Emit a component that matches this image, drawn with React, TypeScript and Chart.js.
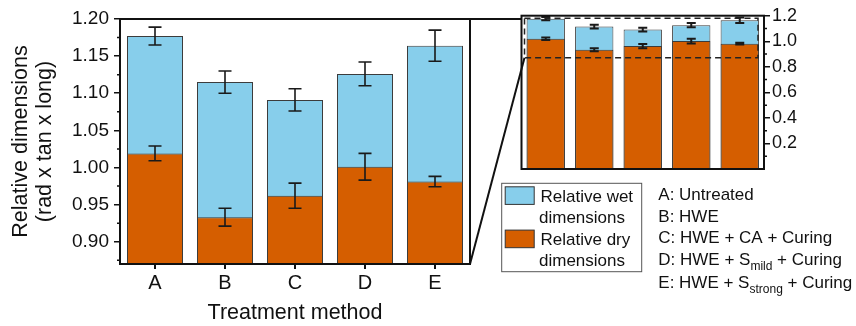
import React, { useEffect, useRef } from 'react';
import { Chart, registerables } from 'chart.js';

Chart.register(...registerables);

// ---------------- data ----------------
const categories = ['A', 'B', 'C', 'D', 'E'];
const wetValues = [1.177, 1.115, 1.091, 1.126, 1.164];
const wetErrors = [0.012, 0.015, 0.015, 0.016, 0.021];
const dryValues = [1.019, 0.933, 0.962, 1.001, 0.981];
const dryErrors = [0.010, 0.012, 0.017, 0.018, 0.007];

const mainYTicks = [0.9, 0.95, 1.0, 1.05, 1.1, 1.15, 1.2];
const mainYMinorTicks = [0.875, 0.925, 0.975, 1.025, 1.075, 1.125, 1.175];
const mainYRange = [0.87, 1.2];

const insetYTicks = [0.2, 0.4, 0.6, 0.8, 1.0, 1.2];
const insetYMinorTicks = [0.1, 0.3, 0.5, 0.7, 0.9, 1.1];
const insetYRange = [0, 1.2];
const zoomWindow = [0.87, 1.18];

const legendEntries = [
  { lines: ['Relative wet', 'dimensions'], series: 'wet' },
  { lines: ['Relative dry', 'dimensions'], series: 'dry' },
];

type Seg = { t: string; sub?: boolean };
const treatmentNotes: Seg[][] = [
  [{ t: 'A: Untreated' }],
  [{ t: 'B: HWE' }],
  [{ t: 'C: HWE + CA + Curing' }],
  [{ t: 'D: HWE + S' }, { t: 'mild', sub: true }, { t: ' + Curing' }],
  [{ t: 'E: HWE + S' }, { t: 'strong', sub: true }, { t: ' + Curing' }],
];

// ---------------- style / layout ----------------
const W = 856;
const H = 326;
const MAIN_AREA = { left: 120, top: 19, right: 470, bottom: 264 };
const INSET_AREA = { left: 521.5, top: 15.7, right: 764, bottom: 169 };
const INSET_AXIS_W = 40;
const FONT = '"Liberation Sans", Arial, Helvetica, sans-serif';
const WET = '#87CEEB';
const DRY = '#D55E00';
const EDGE = '#3c3c3c';
const INK = '#111111';

const errorBarPlugin = {
  id: 'errorBars',
  afterDatasetsDraw(chart: any, _args: any, opts: any) {
    const { ctx } = chart;
    ctx.save();
    ctx.strokeStyle = opts.color || INK;
    ctx.lineWidth = opts.lineWidth || 1.5;
    const cap = opts.capWidth || 12;
    chart.data.datasets.forEach((ds: any, di: number) => {
      const errs = ds.errors;
      if (!errs) return;
      const meta = chart.getDatasetMeta(di);
      const yScale = chart.scales[meta.yAxisID];
      meta.data.forEach((bar: any, i: number) => {
        const v = ds.data[i];
        const e = errs[i];
        const x = bar.x;
        const yT = yScale.getPixelForValue(v + e);
        const yB = yScale.getPixelForValue(v - e);
        ctx.beginPath();
        ctx.moveTo(x, yT);
        ctx.lineTo(x, yB);
        ctx.moveTo(x - cap / 2, yT);
        ctx.lineTo(x + cap / 2, yT);
        ctx.moveTo(x - cap / 2, yB);
        ctx.lineTo(x + cap / 2, yB);
        ctx.stroke();
      });
    });
    ctx.restore();
  },
};

function makeDatasets(barPct: number) {
  return [
    {
      label: 'Relative dry dimensions',
      data: dryValues,
      errors: dryErrors,
      backgroundColor: DRY,
      borderColor: EDGE,
      borderWidth: 1,
      order: 0,
      grouped: false,
      barPercentage: barPct,
      categoryPercentage: 1,
    },
    {
      label: 'Relative wet dimensions',
      data: wetValues,
      errors: wetErrors,
      backgroundColor: WET,
      borderColor: EDGE,
      borderWidth: 1,
      order: 1,
      grouped: false,
      barPercentage: barPct,
      categoryPercentage: 1,
    },
  ];
}

const mainDecor = {
  id: 'mainDecor',
  afterDraw(chart: any) {
    const { ctx, chartArea: a } = chart;
    const y = chart.scales.y;
    ctx.save();
    ctx.strokeStyle = INK;
    ctx.lineWidth = 2;
    ctx.beginPath();
    ctx.moveTo(a.left, a.bottom);
    ctx.lineTo(a.left, a.top);
    ctx.lineTo(INSET_AREA.left, a.top);
    ctx.moveTo(a.right, a.top);
    ctx.lineTo(a.right, a.bottom);
    ctx.lineTo(a.left - 1, a.bottom);
    ctx.stroke();
    // minor ticks
    ctx.lineWidth = 1.5;
    ctx.beginPath();
    mainYMinorTicks.forEach((v) => {
      const py = y.getPixelForValue(v);
      ctx.moveTo(a.left, py);
      ctx.lineTo(a.left - 3, py);
    });
    ctx.stroke();
    ctx.restore();
  },
};

function drawSegs(ctx: any, segs: Seg[], x: number, y: number) {
  let cx = x;
  segs.forEach((s) => {
    if (s.sub) {
      ctx.font = `12px ${FONT}`;
      ctx.fillText(s.t, cx, y + 4.5);
    } else {
      ctx.font = `17px ${FONT}`;
      ctx.fillText(s.t, cx, y);
    }
    cx += ctx.measureText(s.t).width;
  });
}

const insetDecor = {
  id: 'insetDecor',
  afterDraw(chart: any) {
    const { ctx, chartArea: a } = chart;
    const y = chart.scales.y;
    ctx.save();
    // frame
    ctx.strokeStyle = INK;
    ctx.lineWidth = 2;
    ctx.strokeRect(a.left, a.top, a.right - a.left, a.bottom - a.top);
    // minor ticks
    ctx.lineWidth = 1.5;
    ctx.beginPath();
    insetYMinorTicks.forEach((v) => {
      const py = y.getPixelForValue(v);
      ctx.moveTo(a.right, py);
      ctx.lineTo(a.right + 3, py);
    });
    ctx.stroke();
    // dashed zoom window
    const zl = a.left + 3;
    const zr = a.right - 6;
    const zt = y.getPixelForValue(zoomWindow[1]);
    const zb = y.getPixelForValue(zoomWindow[0]);
    ctx.setLineDash([6, 4]);
    ctx.lineWidth = 1.5;
    ctx.strokeStyle = '#222';
    ctx.strokeRect(zl, zt, zr - zl, zb - zt);
    ctx.setLineDash([]);
    // connector
    ctx.strokeStyle = INK;
    ctx.lineWidth = 2;
    ctx.beginPath();
    ctx.moveTo(MAIN_AREA.right, MAIN_AREA.bottom);
    ctx.lineTo(zl, zb);
    ctx.stroke();

    // legend box
    const lx = 501.7;
    const ly = 183.3;
    ctx.lineWidth = 1;
    ctx.strokeStyle = '#555';
    ctx.strokeRect(lx, ly, 140, 88.4);
    ctx.fillStyle = INK;
    ctx.textBaseline = 'alphabetic';
    ctx.textAlign = 'left';
    legendEntries.forEach((en, i) => {
      const top = ly + 3.5 + i * 43.3;
      ctx.fillStyle = en.series === 'wet' ? WET : DRY;
      ctx.fillRect(lx + 3.5, top, 29, 17.6);
      ctx.strokeStyle = '#333';
      ctx.strokeRect(lx + 3.5, top, 29, 17.6);
      ctx.fillStyle = INK;
      ctx.font = `17px ${FONT}`;
      ctx.fillText(en.lines[0], 540.5, top + 15);
      ctx.fillText(en.lines[1], 539, top + 36);
    });

    // treatment notes
    const baselines = [200, 221.7, 243.3, 265, 288.3];
    treatmentNotes.forEach((segs, i) => {
      drawSegs(ctx, segs, 658.3, baselines[i]);
    });
    ctx.restore();
  },
};

export default function App() {
  const mainRef = useRef<HTMLCanvasElement>(null);
  const insetRef = useRef<HTMLCanvasElement>(null);

  useEffect(() => {
    const main = new Chart(mainRef.current as HTMLCanvasElement, {
      type: 'bar',
      data: { labels: categories, datasets: makeDatasets(0.8) as any },
      plugins: [errorBarPlugin, mainDecor],
      options: {
        responsive: false,
        animation: false,
        devicePixelRatio: 1,
        layout: { padding: { left: 0, top: MAIN_AREA.top, right: W - MAIN_AREA.right, bottom: 0 } },
        plugins: {
          legend: { display: false },
          tooltip: { enabled: false },
          errorBars: { capWidth: 13, lineWidth: 1.6, color: '#1a1a1a' },
        } as any,
        scales: {
          x: {
            grid: { display: true, drawOnChartArea: false, offset: false, tickLength: 5, color: INK, lineWidth: 2 },
            border: { display: false },
            ticks: { color: INK, font: { family: FONT, size: 20 }, padding: 2 },
            title: { display: true, text: 'Treatment method', color: INK, font: { family: FONT, size: 21.5, lineHeight: 1.2 }, padding: 0 },
            afterFit: (s: any) => { s.height = H - MAIN_AREA.bottom; },
          },
          y: {
            min: mainYRange[0],
            max: mainYRange[1],
            afterBuildTicks: (s: any) => { s.ticks = mainYTicks.map((v) => ({ value: v })); },
            grid: { display: true, drawOnChartArea: false, tickLength: 6, color: INK, lineWidth: 1.5 },
            border: { display: false },
            ticks: { color: INK, font: { family: FONT, size: 19 }, padding: 5, callback: (v: any) => Number(v).toFixed(2) },
            title: {
              display: true,
              text: ['Relative dimensions', '(rad x tan x long)'],
              color: INK,
              font: { family: FONT, size: 21.5, lineHeight: 1.12 },
              padding: { top: 9, bottom: 0 },
            },
            afterFit: (s: any) => { s.width = MAIN_AREA.left; },
          },
        },
      } as any,
    });

    const inset = new Chart(insetRef.current as HTMLCanvasElement, {
      type: 'bar',
      data: { labels: categories, datasets: makeDatasets(0.79) as any },
      plugins: [errorBarPlugin, insetDecor],
      options: {
        responsive: false,
        animation: false,
        devicePixelRatio: 1,
        layout: {
          padding: {
            left: INSET_AREA.left,
            top: INSET_AREA.top,
            right: W - INSET_AREA.right - INSET_AXIS_W,
            bottom: H - INSET_AREA.bottom,
          },
        },
        plugins: {
          legend: { display: false },
          tooltip: { enabled: false },
          errorBars: { capWidth: 9, lineWidth: 2, color: '#1a1a1a' },
        } as any,
        scales: {
          x: { display: false },
          y: {
            position: 'right',
            min: insetYRange[0],
            max: insetYRange[1],
            afterBuildTicks: (s: any) => { s.ticks = insetYTicks.map((v) => ({ value: v })); },
            grid: { display: true, drawOnChartArea: false, tickLength: 6, color: INK, lineWidth: 1.5 },
            border: { display: false },
            ticks: { color: INK, font: { family: FONT, size: 18 }, padding: 2, callback: (v: any) => Number(v).toFixed(1) },
            afterFit: (s: any) => { s.width = INSET_AXIS_W; },
          },
        },
      } as any,
    });

    return () => {
      main.destroy();
      inset.destroy();
    };
  }, []);

  const layer: React.CSSProperties = { position: 'absolute', left: 0, top: 0, width: W, height: H };
  return (
    <div style={{ position: 'absolute', left: 0, top: 0, width: W, height: H, background: '#fff' }}>
      <canvas ref={mainRef} width={W} height={H} style={layer} />
      <canvas ref={insetRef} width={W} height={H} style={layer} />
    </div>
  );
}
